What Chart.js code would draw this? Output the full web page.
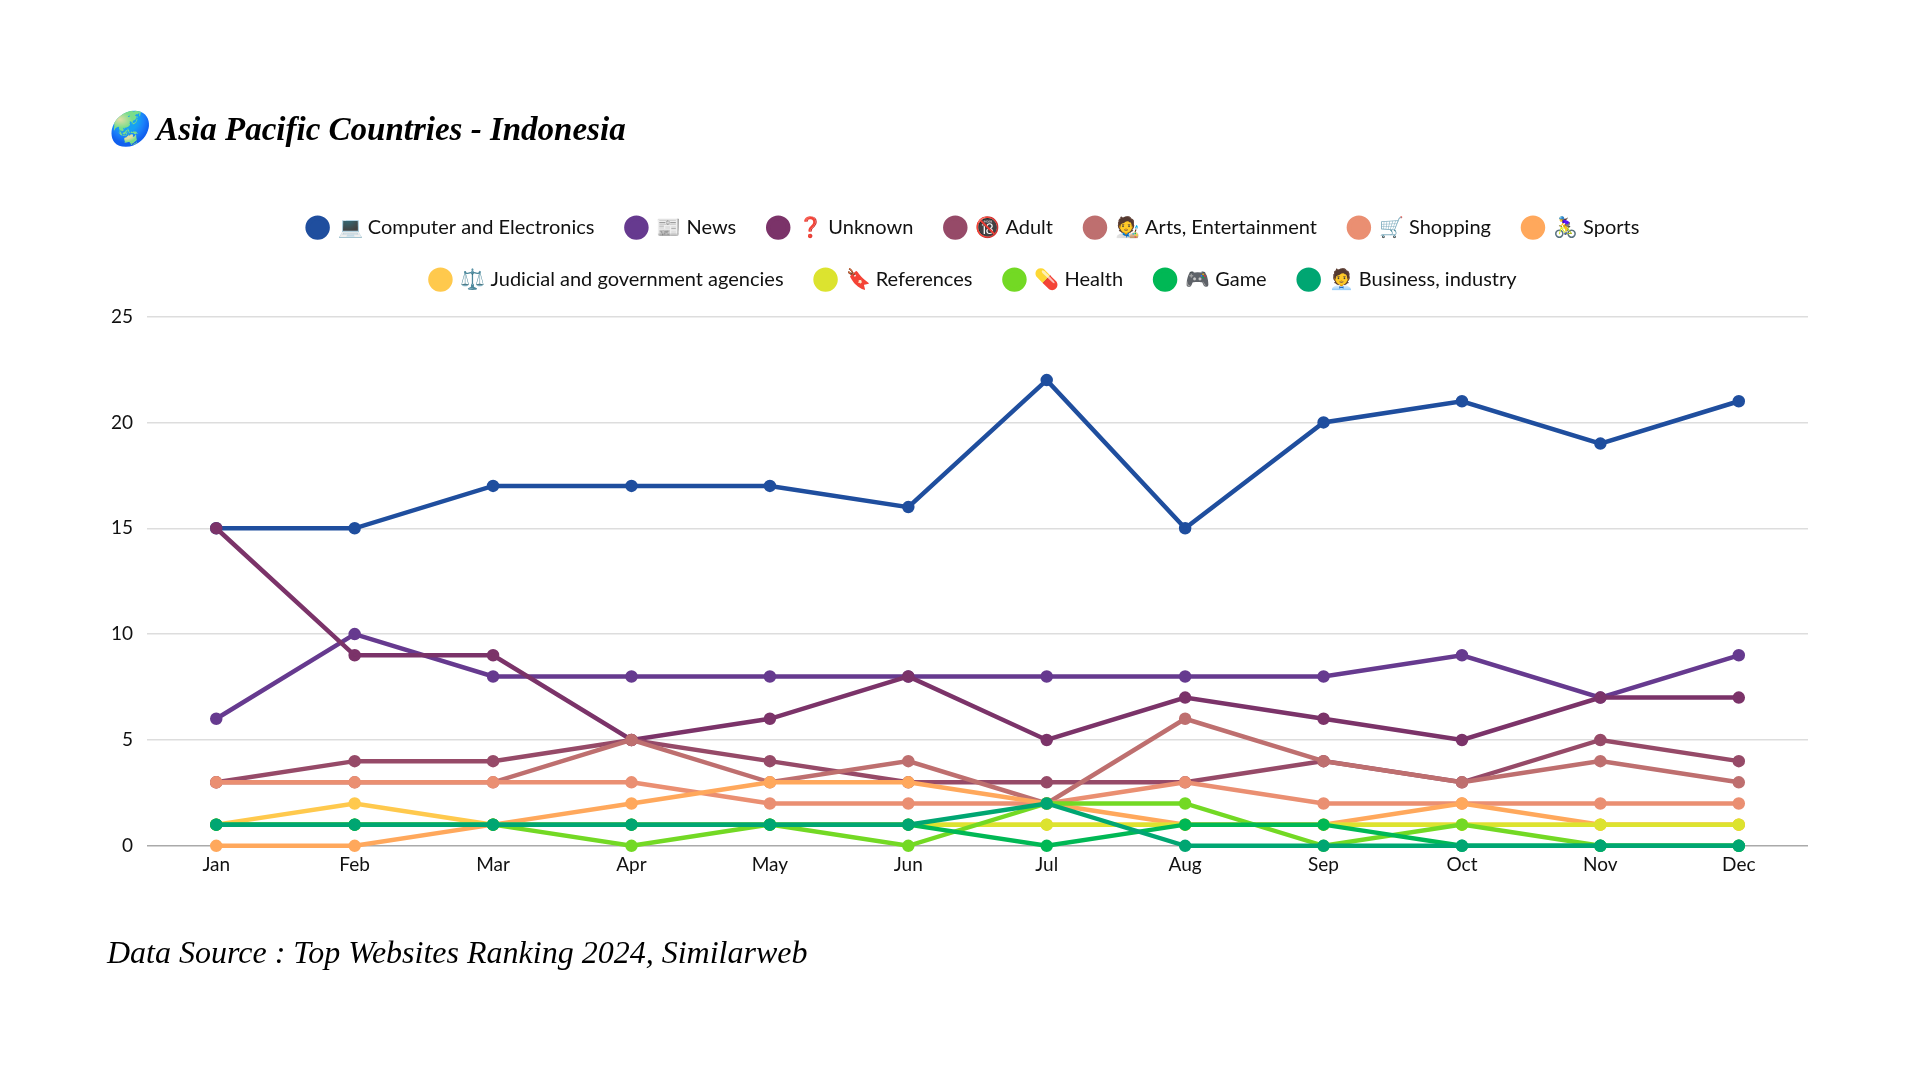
<!DOCTYPE html>
<html>
<head>
  <title>Indonesia</title>
  <script src="https://cdn.jsdelivr.net/npm/chart.js"></script>
  <style>
    html, body { margin: 0; background: #fff; }
    canvas { display: block; }
  </style>
</head>
<body>
  <canvas id="ranking" width="1920" height="1080"></canvas>

  <script>
    const months = ['Jan', 'Feb', 'Mar', 'Apr', 'May', 'Jun', 'Jul', 'Aug', 'Sep', 'Oct', 'Nov', 'Dec'];

    const categories = [
      '💻 Computer and Electronics', '📰 News', '❓ Unknown', '🔞 Adult',
      '🧑‍🎨 Arts, Entertainment', '🛒 Shopping', '🚴‍♀️ Sports',
      '⚖️ Judicial and government agencies', '🔖 References', '💊 Health',
      '🎮 Game', '🧑‍💼 Business, industry'
    ];

    const colors = [
      '#1f4e9e', '#663a8f', '#7b3369', '#964a68', '#be6f6f', '#ea8f72',
      '#ffa85c', '#ffc94d', '#dce32f', '#73d924', '#00b855', '#00a672'
    ];

    const computer = [15, 15, 17, 17, 17, 16, 22, 15, 20, 21, 19, 21];
    const news = [6, 10, 8, 8, 8, 8, 8, 8, 8, 9, 7, 9];
    const unknown = [15, 9, 9, 5, 6, 8, 5, 7, 6, 5, 7, 7];
    const adult = [3, 4, 4, 5, 4, 3, 3, 3, 4, 3, 5, 4];
    const arts = [3, 3, 3, 5, 3, 4, 2, 6, 4, 3, 4, 3];
    const shopping = [3, 3, 3, 3, 2, 2, 2, 3, 2, 2, 2, 2];
    const sports = [0, 0, 1, 2, 3, 3, 2, 1, 1, 2, 1, 1];
    const judicial = [1, 2, 1, 1, 1, 1, 1, 1, 1, 1, 1, 1];
    const references = [1, 1, 1, 1, 1, 1, 1, 1, 1, 1, 1, 1];
    const health = [1, 1, 1, 0, 1, 0, 2, 2, 0, 1, 0, 0];
    const game = [1, 1, 1, 1, 1, 1, 0, 1, 1, 0, 0, 0];
    const business = [1, 1, 1, 1, 1, 1, 2, 0, 0, 0, 0, 0];

    const series = [computer, news, unknown, adult, arts, shopping, sports, judicial, references, health, game, business];

    const sans = "Lato, 'Noto Sans', sans-serif";
    const serif = "'Liberation Serif', serif";

    // extra room under the legend, and legend centred over the plot
    const legendGap = {
      id: 'legendGap',
      beforeInit(chart) {
        const fit = chart.legend.fit;
        chart.legend.fit = function () {
          fit.call(this);
          this.height += 17;
        };
      },
      afterLayout(chart) {
        chart.legend.left += 32;
      }
    };

    new Chart(document.getElementById('ranking').getContext('2d'), {
      type: 'line',
      plugins: [legendGap],
      data: {
        labels: months,
        datasets: series.map((values, i) => ({
          label: categories[i],
          data: values,
          borderColor: colors[i],
          backgroundColor: colors[i],
          borderWidth: 4.5,
          pointRadius: 4,
          tension: 0,
          clip: false,
          // later series sit on top
          order: series.length - i
        }))
      },
      options: {
        responsive: false,
        animation: false,
        layout: { padding: { left: 107, right: 112, top: 100, bottom: 106 } },
        plugins: {
          title: {
            display: true,
            text: '🌏 Asia Pacific Countries - Indonesia',
            align: 'start',
            color: '#000',
            font: { family: serif, size: 33, style: 'italic', weight: 'bold' },
            padding: { top: 12, bottom: 34 }
          },
          subtitle: {
            display: true,
            position: 'bottom',
            text: 'Data Source : Top Websites Ranking 2024, Similarweb',
            align: 'start',
            color: '#000',
            font: { family: serif, size: 32, style: 'italic' },
            padding: { top: 59, bottom: 0 }
          },
          legend: {
            labels: {
              usePointStyle: true,
              pointStyle: 'circle',
              pointStyleWidth: 20,
              boxHeight: 14,
              padding: 32,
              color: '#111',
              font: { family: sans, size: 20 },
              sort: (a, b) => a.datasetIndex - b.datasetIndex
            }
          },
          tooltip: { enabled: false }
        },
        scales: {
          x: {
            offset: true,
            grid: { display: false },
            border: { display: false },
            ticks: { color: '#111', padding: 0, font: { family: sans, size: 19 }, maxRotation: 0 }
          },
          y: {
            min: 0,
            max: 25,
            afterFit: scale => { scale.width -= 10; },
            ticks: { stepSize: 5, color: '#111', padding: 14, font: { family: sans, size: 19 } },
            border: { display: false },
            grid: {
              drawTicks: false,
              lineWidth: 1.5,
              color: ctx => ctx.tick.value === 0 ? '#aaa' : '#ddd'
            }
          }
        }
      }
    });
  </script>
</body>
</html>
